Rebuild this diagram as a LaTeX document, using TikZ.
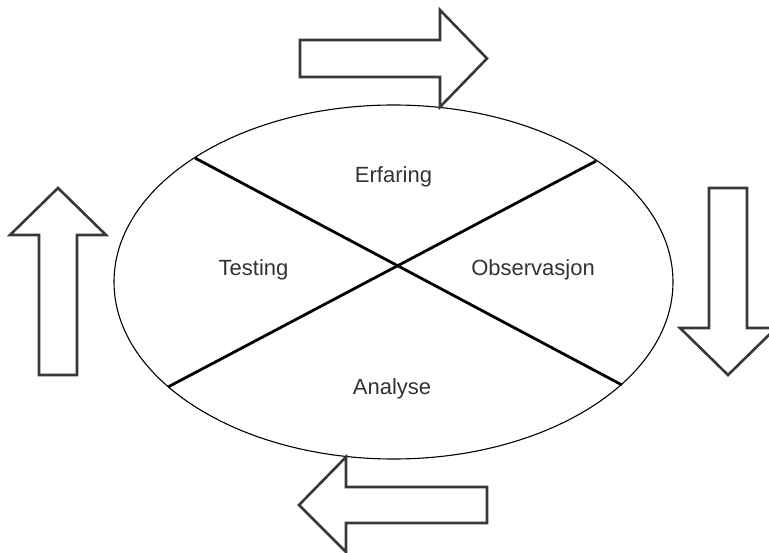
\documentclass[tikz,border=0pt]{standalone}
\usepackage{fontspec}
\setmainfont{Liberation Sans}
\begin{document}
\begin{tikzpicture}[x=1pt,y=-1pt,
  blockarrow/.style={draw=black!78, line width=2.6pt, fill=white, line join=miter},
  divider/.style={draw=black, line width=2.8pt},
  label/.style={text=black!80, font=\fontsize{22}{26}\selectfont, anchor=base, inner sep=0pt}]
  \useasboundingbox (0,0) rectangle (769,553);
  \clip (0,0) rectangle (769,553);

  % the cycle ellipse
  \draw[line width=1.1pt] (393.5,282) ellipse [x radius=279.5, y radius=177];

  % crossing dividers
  \coordinate (tl) at (195,158);
  \coordinate (tr) at (596,161);
  \coordinate (bl) at (168,387);
  \coordinate (br) at (622,385);
  \draw[divider] (tl) -- (br);
  \draw[divider] (tr) -- (bl);

  % quadrant labels
  \node[label] (erf) at (393.5,183) {Erfaring};
  \node[label] (tst) at (253.5,276) {Testing};
  \node[label] (obs) at (533,276) {Observasjon};
  \node[label] (ana) at (392,395) {Analyse};

  % block arrows around the cycle
  \draw[blockarrow] (300,40) -- (440,40) -- (440,10) -- (487,58.5) -- (440,107)
    -- (440,77) -- (300,77) -- cycle;
  \draw[blockarrow] (709,188) -- (747,188) -- (747,328) -- (776,328) -- (728,375)
    -- (680,328) -- (709,328) -- cycle;
  \draw[blockarrow] (487,487) -- (346,487) -- (346,457) -- (299,505) -- (346,552)
    -- (346,523) -- (487,523) -- cycle;
  \draw[blockarrow] (39,375) -- (39,235) -- (10,235) -- (58,188) -- (106,235)
    -- (77,235) -- (77,375) -- cycle;
\end{tikzpicture}
\end{document}
